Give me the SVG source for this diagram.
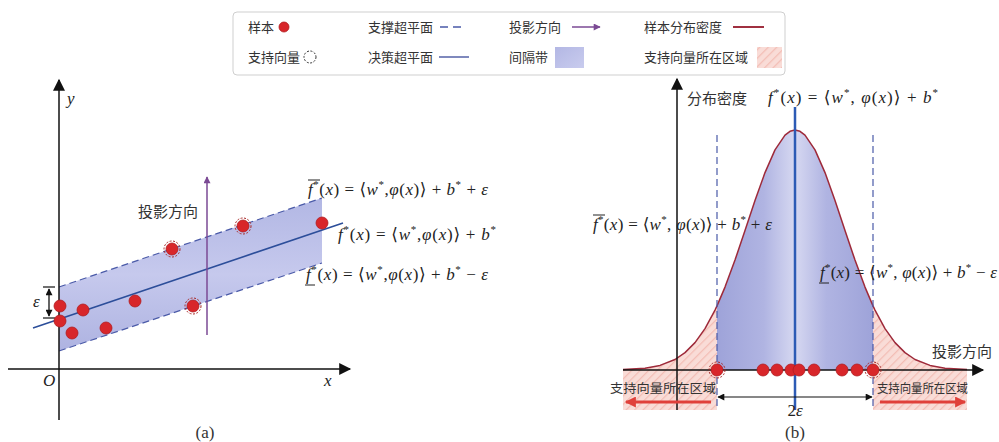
<svg xmlns="http://www.w3.org/2000/svg" width="999" height="442" viewBox="0 0 999 442">
<style>
.cn{font-family:"Noto Sans CJK SC",sans-serif;fill:#333}
.lg{font-size:13px}
.eq{font-family:"Liberation Serif","DejaVu Serif",serif;font-size:17px;fill:#222}
.i{font-style:italic}
.s{font-size:11px}
.bar{stroke:#222;stroke-width:1}
.dot{fill:#d8262a;stroke:#b01c20;stroke-width:0.8}
.ring{fill:none;stroke:#a82828;stroke-width:1;stroke-dasharray:2 1.5}
.axis{stroke:#111;stroke-width:1.5;fill:none}
.dash{stroke:#4a5aa8;stroke-width:1.2;stroke-dasharray:7 4;fill:none}
.cap{font-family:"Liberation Serif",serif;font-size:17px;fill:#333}
</style>
<defs>
<marker id="ah" viewBox="0 0 10 10" refX="9" refY="5" markerWidth="14" markerHeight="12" markerUnits="userSpaceOnUse" orient="auto-start-reverse"><path d="M0,0 L10,5 L0,10 z" fill="#111"/></marker>
<marker id="ahs" viewBox="0 0 10 10" refX="9" refY="5" markerWidth="8" markerHeight="7" markerUnits="userSpaceOnUse" orient="auto-start-reverse"><path d="M0,0 L10,5 L0,10 z" fill="#111"/></marker>
<marker id="ahp" viewBox="0 0 10 10" refX="9" refY="5" markerWidth="9" markerHeight="7" markerUnits="userSpaceOnUse" orient="auto-start-reverse"><path d="M0,0 L10,5 L0,10 z" fill="#7b4a94"/></marker>
<marker id="ahr" viewBox="0 0 10 10" refX="9" refY="5" markerWidth="14" markerHeight="11" markerUnits="userSpaceOnUse" orient="auto-start-reverse"><path d="M0,0 L10,5 L0,10 z" fill="#e0403a"/></marker>
<pattern id="pink" width="6" height="6" patternUnits="userSpaceOnUse" patternTransform="rotate(45)"><rect width="6" height="6" fill="#f9dcd7"/><line x1="0" y1="0" x2="0" y2="6" stroke="#f3bdb5" stroke-width="2.5"/></pattern>
<linearGradient id="bandA" x1="0" y1="0" x2="0" y2="1"><stop offset="0" stop-color="#b2b7e4"/><stop offset="0.5" stop-color="#c6c9ed"/><stop offset="1" stop-color="#aeb3e1"/></linearGradient>
<linearGradient id="bandB" x1="717" y1="0" x2="873" y2="0" gradientUnits="userSpaceOnUse"><stop offset="0" stop-color="#9ea3d9"/><stop offset="0.3" stop-color="#b0b4e2"/><stop offset="0.5" stop-color="#d6d8f1"/><stop offset="0.7" stop-color="#b0b4e2"/><stop offset="1" stop-color="#9ea3d9"/></linearGradient>
<linearGradient id="swB" x1="0" y1="0" x2="1" y2="1"><stop offset="0" stop-color="#b3b7e4"/><stop offset="1" stop-color="#c9ccee"/></linearGradient>
</defs>

<g id="legend">
<rect x="233" y="12" width="552" height="63" rx="4" fill="#fff" stroke="#cfcfcf"/>
<g id="lg-sample"><text class="cn lg" x="248" y="32">样本</text><circle class="dot" cx="284" cy="27" r="5"/></g>
<g id="lg-sv"><text class="cn lg" x="248" y="62">支持向量</text><circle cx="310" cy="57" r="6" fill="none" stroke="#333" stroke-width="1" stroke-dasharray="2 1.5"/></g>
<g id="lg-support"><text class="cn lg" x="368" y="32">支撑超平面</text><line x1="440" y1="27" x2="466" y2="27" stroke="#4a5aa8" stroke-width="1.3" stroke-dasharray="8 5"/></g>
<g id="lg-decision"><text class="cn lg" x="368" y="62">决策超平面</text><line x1="439" y1="57" x2="469" y2="57" stroke="#3a4a9a" stroke-width="1.3"/></g>
<g id="lg-proj"><text class="cn lg" x="509" y="32">投影方向</text><line x1="572" y1="27" x2="600" y2="27" stroke="#7b4a94" stroke-width="1.5" marker-end="url(#ahp)"/></g>
<g id="lg-margin"><text class="cn lg" x="509" y="62">间隔带</text><rect x="555" y="47" width="29" height="21" fill="url(#swB)"/></g>
<g id="lg-density"><text class="cn lg" x="644" y="32">样本分布密度</text><line x1="733" y1="27" x2="764" y2="27" stroke="#a03040" stroke-width="2"/></g>
<g id="lg-svregion"><text class="cn lg" x="644" y="62">支持向量所在区域</text><rect x="757" y="47" width="25" height="21" fill="url(#pink)"/></g>
</g>

<g id="panel-a">
<g id="a-band">
<polygon points="59,287 322,198 322,263 59,351" fill="url(#bandA)"/>
<line class="dash" x1="59" y1="287" x2="322" y2="198"/>
<line class="dash" x1="59" y1="351" x2="322" y2="263"/>
</g>
<g id="a-axes">
<line class="axis" x1="59" y1="420" x2="59" y2="80" marker-end="url(#ah)"/>
<line class="axis" x1="8" y1="369" x2="350" y2="369" marker-end="url(#ah)"/>
<text class="eq i" x="67" y="104" font-size="13">y</text>
<text class="eq i" x="43" y="386" font-size="13">O</text>
<text class="eq i" x="324" y="386" font-size="13">x</text>
</g>
<g id="a-decision"><line x1="33" y1="328" x2="343" y2="223" stroke="#2c4e9a" stroke-width="1.6"/></g>
<g id="a-proj"><line x1="207" y1="335" x2="207" y2="177" stroke="#7b4a94" stroke-width="1.5" marker-end="url(#ahp)"/><text class="cn" x="138" y="217" font-size="15">投影方向</text></g>
<g id="a-eps">
<line x1="49" y1="289" x2="49" y2="316" stroke="#111" stroke-width="1.3" marker-start="url(#ahs)" marker-end="url(#ahs)"/>
<line x1="43" y1="287" x2="55" y2="287" stroke="#111" stroke-width="1.2"/>
<line x1="43" y1="318" x2="55" y2="318" stroke="#111" stroke-width="1.2"/>
<text class="eq i" x="33" y="307" font-size="12">ε</text>
</g>
<g id="a-samples">
<circle class="dot" cx="60" cy="306" r="6"/>
<circle class="dot" cx="60" cy="321" r="6"/>
<circle class="dot" cx="83" cy="310" r="6"/>
<circle class="dot" cx="72" cy="333" r="6"/>
<circle class="dot" cx="106" cy="328" r="6"/>
<circle class="dot" cx="135" cy="301" r="6"/>
<circle class="dot" cx="172" cy="249" r="6"/><circle class="ring" cx="172" cy="249" r="8"/>
<circle class="dot" cx="193" cy="306" r="6"/><circle class="ring" cx="193" cy="306" r="8"/>
<circle class="dot" cx="243" cy="226" r="6"/><circle class="ring" cx="243" cy="226" r="8"/>
<circle class="dot" cx="322" cy="223" r="6"/>
</g>
<g id="a-eqs">
<text class="eq" x="308" y="195" textLength="180" lengthAdjust="spacing"><tspan class="i">f</tspan><tspan class="s" dy="-7">*</tspan><tspan dy="7">(</tspan><tspan class="i">x</tspan>) = ⟨<tspan class="i">w</tspan><tspan class="s" dy="-7">*</tspan><tspan dy="7">,</tspan><tspan class="i">φ</tspan>(<tspan class="i">x</tspan>)⟩ + <tspan class="i">b</tspan><tspan class="s" dy="-7">*</tspan><tspan dy="7"> + </tspan><tspan class="i">ε</tspan></text>
<line class="bar" x1="308" y1="180" x2="320" y2="180"/>
<text class="eq" x="338" y="240" textLength="158" lengthAdjust="spacing"><tspan class="i">f</tspan><tspan class="s" dy="-7">*</tspan><tspan dy="7">(</tspan><tspan class="i">x</tspan>) = ⟨<tspan class="i">w</tspan><tspan class="s" dy="-7">*</tspan><tspan dy="7">,</tspan><tspan class="i">φ</tspan>(<tspan class="i">x</tspan>)⟩ + <tspan class="i">b</tspan><tspan class="s" dy="-7">*</tspan></text>
<text class="eq" x="306" y="280" textLength="182" lengthAdjust="spacing"><tspan class="i">f</tspan><tspan class="s" dy="-7">*</tspan><tspan dy="7">(</tspan><tspan class="i">x</tspan>) = ⟨<tspan class="i">w</tspan><tspan class="s" dy="-7">*</tspan><tspan dy="7">,</tspan><tspan class="i">φ</tspan>(<tspan class="i">x</tspan>)⟩ + <tspan class="i">b</tspan><tspan class="s" dy="-7">*</tspan><tspan dy="7"> − </tspan><tspan class="i">ε</tspan></text>
<line class="bar" x1="305" y1="285" x2="315" y2="285"/>
</g>
<text class="cap" x="205" y="438" text-anchor="middle">(a)</text>
</g>

<g id="panel-b">
<g id="b-regions">
<path d="M623,410 L623,369.6 L645,368.2 L660,365.4 L675,359.5 L685,352.6 L695,342.6 L705,328.6 L715,310.1 L717,305.9 L717,410 Z" fill="url(#pink)"/>
<path d="M873,410 L873,305.9 L875,310.1 L885,328.6 L895,342.6 L905,352.6 L915,359.5 L930,365.4 L945,368.2 L967,369.6 L967,410 Z" fill="url(#pink)"/>
<path d="M717,370 L717,305.9 L725,287.1 L735,260.1 L745,230.5 L755,200.4 L765,172.6 L775,149.9 L785,135.2 L790,131.3 L795,130 L800,131.3 L805,135.2 L815,149.9 L825,172.6 L835,200.4 L845,230.5 L855,260.1 L865,287.1 L873,305.9 L873,370 Z" fill="url(#bandB)"/>
</g>
<g id="b-curve"><path d="M623,369.6 L645,368.2 L660,365.4 L675,359.5 L685,352.6 L695,342.6 L705,328.6 L715,310.1 L717,305.9 L725,287.1 L735,260.1 L745,230.5 L755,200.4 L765,172.6 L775,149.9 L785,135.2 L790,131.3 L795,130 L800,131.3 L805,135.2 L815,149.9 L825,172.6 L835,200.4 L845,230.5 L855,260.1 L865,287.1 L873,305.9 L875,310.1 L885,328.6 L895,342.6 L905,352.6 L915,359.5 L930,365.4 L945,368.2 L967,369.6" fill="none" stroke="#9e2a3a" stroke-width="1.5" stroke-linejoin="round"/></g>
<g id="b-lines">
<line class="dash" x1="717" y1="135" x2="717" y2="410"/>
<line class="dash" x1="873" y1="135" x2="873" y2="410"/>
<line x1="795" y1="107" x2="795" y2="410" stroke="#2d5bb5" stroke-width="2.5"/>
</g>
<g id="b-axes">
<line class="axis" x1="677" y1="410" x2="677" y2="79" marker-end="url(#ah)"/>
<line class="axis" x1="623" y1="370" x2="983" y2="370" marker-end="url(#ah)"/>
<text class="cn" x="687" y="104" font-size="15">分布密度</text>
<text class="cn" x="932" y="357" font-size="15">投影方向</text>
</g>
<g id="b-samples">
<circle class="dot" cx="717" cy="370" r="6"/><circle class="ring" cx="717" cy="370" r="8"/>
<circle class="dot" cx="763" cy="370" r="6"/>
<circle class="dot" cx="777" cy="370" r="6"/>
<circle class="dot" cx="791" cy="370" r="6"/>
<circle class="dot" cx="799" cy="370" r="6"/>
<circle class="dot" cx="814" cy="370" r="6"/>
<circle class="dot" cx="842" cy="370" r="6"/>
<circle class="dot" cx="857" cy="370" r="6"/>
<circle class="dot" cx="873" cy="370" r="6"/><circle class="ring" cx="873" cy="370" r="8"/>
</g>
<g id="b-labels">
<text class="cn" x="610" y="393" font-size="12.5" textLength="106" lengthAdjust="spacingAndGlyphs">支持向量所在区域</text>
<text class="cn" x="877" y="393" font-size="12.5" textLength="91" lengthAdjust="spacingAndGlyphs">支持向量所在区域</text>
<line x1="711" y1="402" x2="626" y2="402" stroke="#e0403a" stroke-width="3" marker-end="url(#ahr)"/>
<line x1="880" y1="402" x2="965" y2="402" stroke="#e0403a" stroke-width="3" marker-end="url(#ahr)"/>
<line x1="718" y1="397" x2="872" y2="397" stroke="#111" stroke-width="1.1" marker-start="url(#ahs)" marker-end="url(#ahs)"/>
<text class="eq" x="795" y="416" text-anchor="middle" font-size="13">2<tspan class="i">ε</tspan></text>
</g>
<g id="b-eqs">
<text class="eq" x="768" y="103" textLength="170" lengthAdjust="spacing"><tspan class="i">f</tspan><tspan class="s" dy="-7">*</tspan><tspan dy="7">(</tspan><tspan class="i">x</tspan>) = ⟨<tspan class="i">w</tspan><tspan class="s" dy="-7">*</tspan><tspan dy="7">, </tspan><tspan class="i">φ</tspan>(<tspan class="i">x</tspan>)⟩ + <tspan class="i">b</tspan><tspan class="s" dy="-7">*</tspan></text>
<text class="eq" x="593" y="230" textLength="179" lengthAdjust="spacing"><tspan class="i">f</tspan><tspan class="s" dy="-7">*</tspan><tspan dy="7">(</tspan><tspan class="i">x</tspan>) = ⟨<tspan class="i">w</tspan><tspan class="s" dy="-7">*</tspan><tspan dy="7">, </tspan><tspan class="i">φ</tspan>(<tspan class="i">x</tspan>)⟩ + <tspan class="i">b</tspan><tspan class="s" dy="-7">*</tspan><tspan dy="7"> + </tspan><tspan class="i">ε</tspan></text>
<line class="bar" x1="593" y1="215" x2="605" y2="215"/>
<text class="eq" x="820" y="278" textLength="177" lengthAdjust="spacing"><tspan class="i">f</tspan><tspan class="s" dy="-7">*</tspan><tspan dy="7">(</tspan><tspan class="i">x</tspan>) = ⟨<tspan class="i">w</tspan><tspan class="s" dy="-7">*</tspan><tspan dy="7">, </tspan><tspan class="i">φ</tspan>(<tspan class="i">x</tspan>)⟩ + <tspan class="i">b</tspan><tspan class="s" dy="-7">*</tspan><tspan dy="7"> − </tspan><tspan class="i">ε</tspan></text>
<line class="bar" x1="819" y1="283" x2="829" y2="283"/>
</g>
<text class="cap" x="795" y="438" text-anchor="middle">(b)</text>
</g>
</svg>
